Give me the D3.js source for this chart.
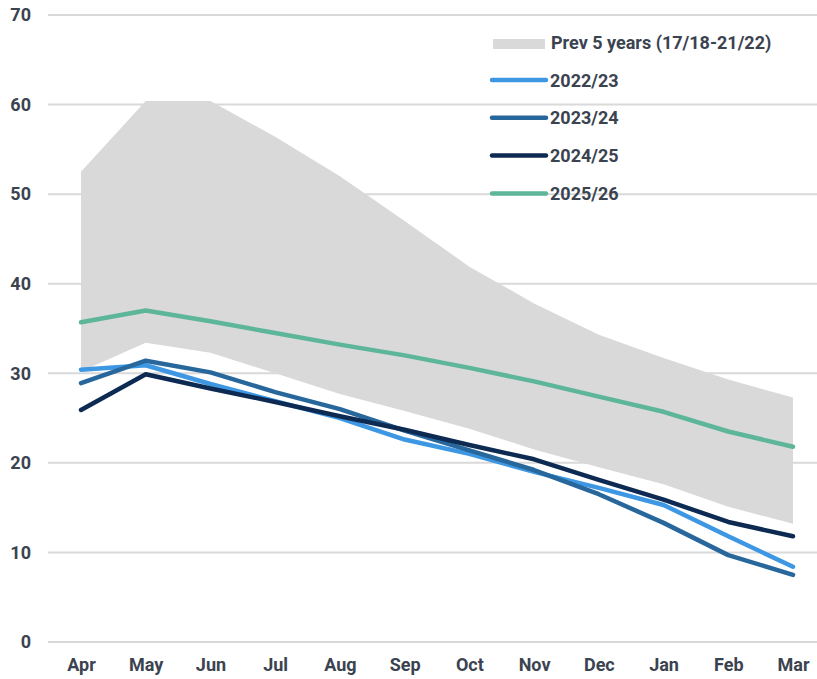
<!DOCTYPE html>
<html>
<head>
<meta charset="utf-8">
<script src="https://cdn.jsdelivr.net/npm/d3@7"></script>
<style>
  body{margin:0;background:#fff;}
  text{font-family:Roboto,"Noto Sans",sans-serif;font-weight:700;fill:#3b4350;}
</style>
</head>
<body>
<svg></svg>
<script>
var months=["Apr","May","Jun","Jul","Aug","Sep","Oct","Nov","Dec","Jan","Feb","Mar"];
var bandUpper=[52.5,60.4,60.4,56.4,52.0,47.0,41.9,37.8,34.3,31.7,29.3,27.3];
var bandLower=[30.2,33.4,32.3,30.0,27.7,25.8,23.8,21.5,19.5,17.6,15.1,13.2];
var y2223=[30.4,30.9,28.8,26.9,25.0,22.6,21.0,19.0,17.2,15.3,11.8,8.4];
var y2324=[28.9,31.4,30.1,27.9,26.0,23.6,21.4,19.2,16.5,13.3,9.7,7.5];
var y2425=[25.9,29.9,28.3,26.8,25.2,23.7,22.0,20.4,18.1,15.9,13.4,11.8];
var y2526=[35.7,37.0,35.8,34.5,33.2,32.0,30.6,29.1,27.4,25.7,23.5,21.8];
var yTicks=[0,10,20,30,40,50,60,70];
var bandName="Prev 5 years (17/18-21/22)";
var seriesNames=["2022/23","2023/24","2024/25","2025/26"];

var series=[
  {name:seriesNames[0],values:y2223,color:"#3d97e3"},
  {name:seriesNames[1],values:y2324,color:"#27679c"},
  {name:seriesNames[2],values:y2425,color:"#0c2a52"},
  {name:seriesNames[3],values:y2526,color:"#5db59a"}
];

var scren={width:817,height:679};
var fontSize=18;
var svg=d3.select("svg")
          .attr("width",scren.width)
          .attr("height",scren.height);

var xScale=d3.scalePoint()
             .domain(months)
             .range([81,793]);
var yScale=d3.scaleLinear()
             .domain([0,70])
             .range([642,15]);

//gridlines
svg.append("g").classed("grid",true)
   .selectAll("line")
   .data(yTicks)
   .enter()
   .append("line")
   .attr("x1",48)
   .attr("x2",scren.width)
   .attr("y1",function(d){return yScale(d);})
   .attr("y2",function(d){return yScale(d);})
   .attr("stroke","#d9d9d9")
   .attr("stroke-width",2);

//y labels
var yAxis=d3.axisLeft(yScale).tickValues(yTicks).tickSize(0).tickPadding(0);
var yG=svg.append("g").attr("transform","translate(31,0)").call(yAxis);
yG.select(".domain").remove();
yG.selectAll("text").attr("font-size",fontSize).attr("fill","#3b4350")
  .style("font-family","Roboto").style("font-weight",700);

//x labels
var xAxis=d3.axisBottom(xScale).tickSize(0).tickPadding(0);
var xG=svg.append("g").attr("transform","translate(0,658)").call(xAxis);
xG.select(".domain").remove();
xG.selectAll("text").attr("font-size",fontSize).attr("fill","#3b4350")
  .style("font-family","Roboto").style("font-weight",700);

//the band
var area=d3.area()
           .x(function(d,i){return xScale(months[i]);})
           .y0(function(d,i){return yScale(bandLower[i]);})
           .y1(function(d){return yScale(d);});
svg.append("path")
   .datum(bandUpper)
   .attr("d",area)
   .attr("fill","#d9d9d9");

//lines
var line=d3.line()
           .x(function(d,i){return xScale(months[i]);})
           .y(function(d){return yScale(d);});
svg.selectAll(".series")
   .data(series)
   .enter()
   .append("path")
   .classed("series",true)
   .attr("d",function(d){return line(d.values);})
   .attr("fill","none")
   .attr("stroke",function(d){return d.color;})
   .attr("stroke-width",4.5)
   .attr("stroke-linecap","round")
   .attr("stroke-linejoin","round");

//the legend...
var legend=svg.append("g").classed("legend",true);
legend.append("rect")
      .attr("x",493).attr("y",39)
      .attr("width",52).attr("height",10)
      .attr("fill","#d9d9d9");
legend.append("text")
      .attr("x",551).attr("y",49)
      .attr("font-size",fontSize)
      .text(bandName);

var legendLines=legend.selectAll(".legendLine")
                      .data(series)
                      .enter()
                      .append("g")
                      .classed("legendLine",true)
                      .attr("transform",function(d,i){return "translate(0,"+(80+i*37.8)+")";});
legendLines.append("line")
           .attr("x1",492).attr("x2",546)
           .attr("y1",0).attr("y2",0)
           .attr("stroke",function(d){return d.color;})
           .attr("stroke-width",4.5)
           .attr("stroke-linecap","round");
legendLines.append("text")
           .attr("x",550).attr("y",6.5)
           .attr("font-size",fontSize)
           .text(function(d){return d.name;});
</script>
</body>
</html>
